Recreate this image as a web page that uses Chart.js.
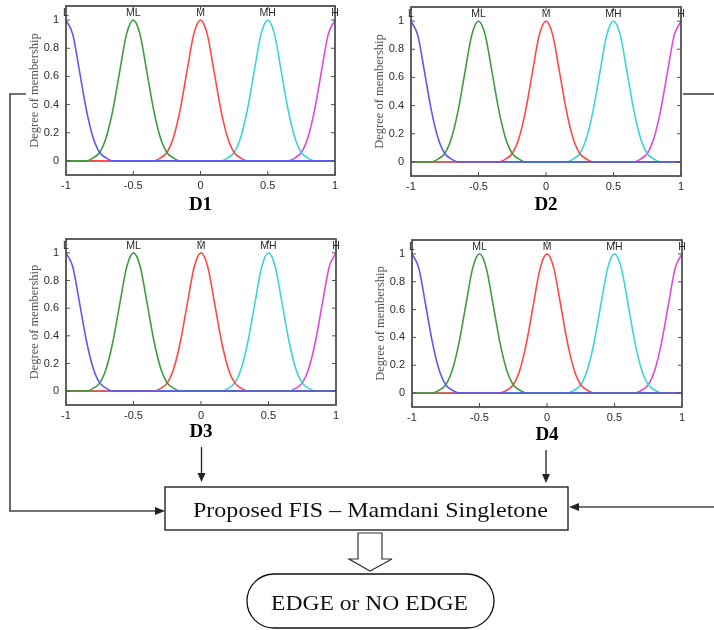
<!DOCTYPE html>
<html>
<head>
<meta charset="utf-8">
<script src="https://cdn.jsdelivr.net/npm/chart.js@4"></script>
<style>
  body { margin: 0; background: #fff; }
  #page { position: relative; width: 714px; height: 630px; overflow: hidden; background: #fff; }
  .plot { position: absolute; }
  #flow { position: absolute; left: 0; top: 0; z-index: 5; }
</style>
</head>
<body>
<div id="page">
  <div class="plot" id="p1"><canvas id="c1"></canvas></div>
  <div class="plot" id="p2"><canvas id="c2"></canvas></div>
  <div class="plot" id="p3"><canvas id="c3"></canvas></div>
  <div class="plot" id="p4"><canvas id="c4"></canvas></div>
  <svg id="flow" width="714" height="630" xmlns="http://www.w3.org/2000/svg">
    <!-- feedback lines -->
    <polyline points="26,94 10,94 10,511 157,511" fill="none" stroke="#444" stroke-width="1.6"/>
    <polygon points="165,511 155,507 155,515" fill="#222"/>
    <line x1="683" y1="94" x2="714" y2="94" stroke="#444" stroke-width="1.6"/>
    <line x1="714" y1="507" x2="578" y2="507" stroke="#444" stroke-width="1.6"/>
    <polygon points="569,507 579,503 579,511" fill="#222"/>
    <!-- down arrows from D3 / D4 -->
    <line x1="201.5" y1="447" x2="201.5" y2="474" stroke="#222" stroke-width="1.3"/>
    <polygon points="201.5,482 197.5,473 205.5,473" fill="#222"/>
    <line x1="546" y1="450" x2="546" y2="475" stroke="#222" stroke-width="1.3"/>
    <polygon points="546,483 542,474 550,474" fill="#222"/>
    <!-- FIS box -->
    <rect x="165" y="487" width="403" height="43" fill="#fff" stroke="#111" stroke-width="1.3"/>
    <text x="193" y="516.5" font-family="Liberation Serif" font-size="22" fill="#111"
          textLength="355" lengthAdjust="spacingAndGlyphs">Proposed FIS – Mamdani Singletone</text>
    <!-- hollow arrow -->
    <polygon points="358,533 382,533 382,559 392,559 370,571 349,559 358,559" fill="#fff" stroke="#333" stroke-width="1.2"/>
    <!-- output terminal -->
    <rect x="247" y="574" width="247" height="54" rx="27" ry="27" fill="#fff" stroke="#111" stroke-width="1.3"/>
    <text x="271" y="609.5" font-family="Liberation Serif" font-size="21.5" fill="#111"
          textLength="197" lengthAdjust="spacingAndGlyphs">EDGE or NO EDGE</text>
  </svg>
</div>
<script>
// membership functions, sampled off the figure
const xValues = [-1, -0.95, -0.9, -0.85, -0.8, -0.75, -0.7, -0.65, -0.6, -0.55,
  -0.5, -0.45, -0.4, -0.35, -0.3, -0.25, -0.2, -0.15, -0.1, -0.05,
  0, 0.05, 0.1, 0.15, 0.2, 0.25, 0.3, 0.35, 0.4, 0.45,
  0.5, 0.55, 0.6, 0.65, 0.7, 0.75, 0.8, 0.85, 0.9, 0.95, 1];

const mfL  = [1, 0.9, 0.64, 0.37, 0.17, 0.06, 0.02, 0, 0, 0,
  0, 0, 0, 0, 0, 0, 0, 0, 0, 0,
  0, 0, 0, 0, 0, 0, 0, 0, 0, 0,
  0, 0, 0, 0, 0, 0, 0, 0, 0, 0, 0];
const mfML = [0, 0, 0, 0, 0.02, 0.06, 0.17, 0.37, 0.64, 0.9,
  1, 0.9, 0.64, 0.37, 0.17, 0.06, 0.02, 0, 0, 0,
  0, 0, 0, 0, 0, 0, 0, 0, 0, 0,
  0, 0, 0, 0, 0, 0, 0, 0, 0, 0, 0];
const mfM  = [0, 0, 0, 0, 0, 0, 0, 0, 0, 0,
  0, 0, 0, 0, 0.02, 0.06, 0.17, 0.37, 0.64, 0.9,
  1, 0.9, 0.64, 0.37, 0.17, 0.06, 0.02, 0, 0, 0,
  0, 0, 0, 0, 0, 0, 0, 0, 0, 0, 0];
const mfMH = [0, 0, 0, 0, 0, 0, 0, 0, 0, 0,
  0, 0, 0, 0, 0, 0, 0, 0, 0, 0,
  0, 0, 0, 0, 0.02, 0.06, 0.17, 0.37, 0.64, 0.9,
  1, 0.9, 0.64, 0.37, 0.17, 0.06, 0.02, 0, 0, 0, 0];
const mfH  = [0, 0, 0, 0, 0, 0, 0, 0, 0, 0,
  0, 0, 0, 0, 0, 0, 0, 0, 0, 0,
  0, 0, 0, 0, 0, 0, 0, 0, 0, 0,
  0, 0, 0, 0, 0.02, 0.06, 0.17, 0.37, 0.64, 0.9, 1];

const mfNames = ['L', 'ML', 'M', 'MH', 'H'];
const mfCenters = [-1, -0.5, 0, 0.5, 1];
const mfColors = ['#5a5af2', '#3f9c3f', '#ff4848', '#3ed4d4', '#dc4cdc'];
const xTicks = [-1, -0.5, 0, 0.5, 1];
const yTicks = [0, 0.2, 0.4, 0.6, 0.8, 1];
const plotNames = ['D1', 'D2', 'D3', 'D4'];

// where each plot box sits on the page
const boxes = [
  {left: 66, top: 6, w: 269, h: 169, titleY: 205},
  {left: 411, top: 7, w: 270, h: 169, titleY: 205.5},
  {left: 66, top: 239, w: 270, h: 166, titleY: 432.5},
  {left: 412, top: 240, w: 270, h: 167, titleY: 435}
];

const series = [mfL, mfML, mfM, mfMH, mfH];

// matlab style box with inward ticks and the MF names above the peaks
const matlabBox = {
  id: 'matlabBox',
  afterDatasetsDraw(chart) {
    const {ctx, chartArea: a, scales: {x, y}} = chart;
    ctx.save();
    ctx.strokeStyle = '#505050';
    ctx.lineWidth = 1;
    ctx.beginPath();
    xTicks.forEach(v => {
      const px = x.getPixelForValue(v);
      ctx.moveTo(px, a.bottom); ctx.lineTo(px, a.bottom - 4);
      ctx.moveTo(px, a.top); ctx.lineTo(px, a.top + 4);
    });
    yTicks.forEach(v => {
      const py = y.getPixelForValue(v);
      ctx.moveTo(a.left, py); ctx.lineTo(a.left + 4, py);
      ctx.moveTo(a.right, py); ctx.lineTo(a.right - 4, py);
    });
    ctx.stroke();
    ctx.lineWidth = 1.8;
    ctx.strokeRect(a.left, a.top, a.right - a.left, a.bottom - a.top);
    ctx.fillStyle = '#2a2a2a';
    ctx.font = '10.5px "Liberation Sans"';
    ctx.textAlign = 'center';
    ctx.textBaseline = 'middle';
    mfNames.forEach((n, i) => {
      ctx.fillText(n, x.getPixelForValue(mfCenters[i]), y.getPixelForValue(1.05));
    });
    ctx.restore();
  }
};

boxes.forEach((b, k) => {
  const W = 66 + b.w + 14;
  const H = 6 + b.h + 56;
  const wrap = document.getElementById('p' + (k + 1));
  wrap.style.left = (b.left - 66) + 'px';
  wrap.style.top = (b.top - 6) + 'px';
  const canvas = document.getElementById('c' + (k + 1));
  canvas.width = W;
  canvas.height = H;
  canvas.style.width = W + 'px';
  canvas.style.height = H + 'px';

  const titlePad = H - 11.4 - (b.titleY - b.top + 6);

  new Chart(canvas, {
    type: 'line',
    data: {
      datasets: series.map((s, i) => ({
        label: mfNames[i],
        data: xValues.map((xv, j) => ({x: xv, y: s[j]})),
        borderColor: mfColors[i],
        borderWidth: 1.6,
        pointRadius: 0,
        fill: false,
        cubicInterpolationMode: 'monotone'
      }))
    },
    options: {
      responsive: false,
      animation: false,
      devicePixelRatio: 1,
      layout: { padding: {left: 0, top: 6, right: 14, bottom: 0} },
      plugins: {
        legend: { display: false },
        tooltip: { enabled: false }
      },
      scales: {
        x: {
          type: 'linear',
          min: -1,
          max: 1,
          grid: { display: false, drawTicks: false },
          border: { display: false },
          afterBuildTicks: s => { s.ticks = xTicks.map(v => ({value: v})); },
          afterFit: s => { s.height = 56; s.paddingLeft = 0; s.paddingRight = 0; },
          ticks: {
            autoSkip: false,
            maxRotation: 0,
            padding: 4,
            color: '#2a2a2a',
            font: { family: 'Liberation Sans', size: 11 },
            callback: v => String(v)
          },
          title: {
            display: true,
            text: plotNames[k],
            color: '#000',
            font: { family: 'Liberation Serif', size: 19, weight: 'bold' },
            padding: { top: 0, bottom: titlePad }
          }
        },
        y: {
          type: 'linear',
          min: -0.1,
          max: 1.1,
          grid: { display: false, drawTicks: false },
          border: { display: false },
          afterBuildTicks: s => { s.ticks = yTicks.map(v => ({value: v})); },
          afterFit: s => { s.width = 66; s.paddingTop = 0; s.paddingBottom = 0; },
          ticks: {
            autoSkip: false,
            padding: 7,
            color: '#2a2a2a',
            font: { family: 'Liberation Sans', size: 11 },
            callback: v => String(v)
          },
          title: {
            display: true,
            text: 'Degree of membership',
            color: '#555',
            font: { family: 'Liberation Serif', size: 12.5 },
            padding: { top: 27.5, bottom: 0 }
          }
        }
      }
    },
    plugins: [matlabBox]
  });
});
</script>
</body>
</html>
